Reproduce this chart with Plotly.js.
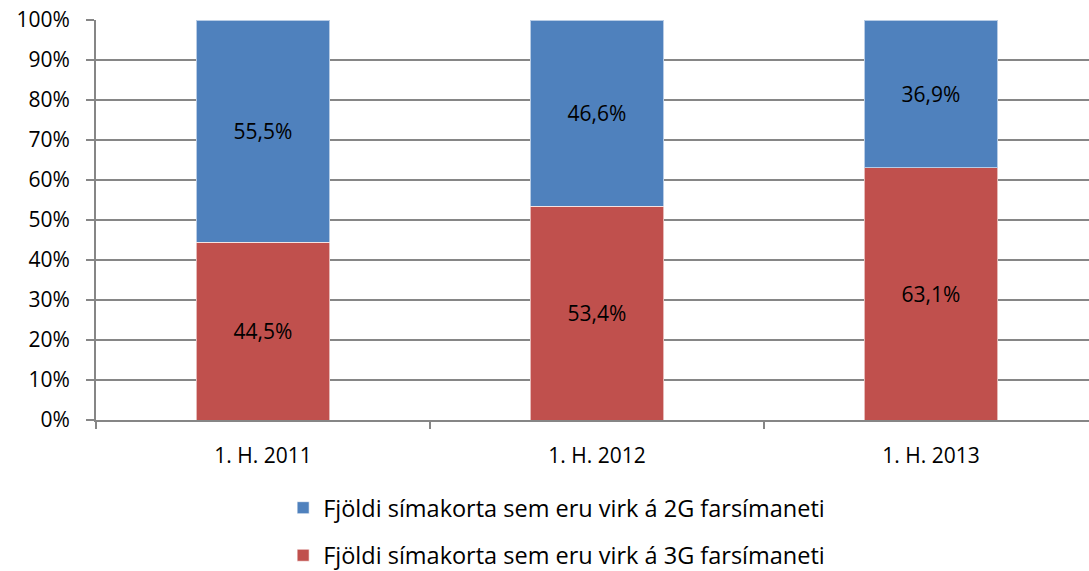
<!DOCTYPE html>
<html>
<head>
<meta charset="utf-8">
<script src="https://cdn.plot.ly/plotly-3.0.1.min.js"></script>
<style>
  html, body { margin: 0; padding: 0; background: #fff; }
  #chart { width: 1089px; height: 571px; }
</style>
</head>
<body>
<div id="chart"></div>
<script>
// Share of SIM cards active on 2G vs 3G networks, first half of each year
const periods   = ['1. H. 2011', '1. H. 2012', '1. H. 2013'];
const share3G   = [0.445, 0.534, 0.631];
const share2G   = [0.555, 0.466, 0.369];
const labels3G  = ['44,5%', '53,4%', '63,1%'];
const labels2G  = ['55,5%', '46,6%', '36,9%'];
const name2G    = 'Fjöldi símakorta sem eru virk á 2G farsímaneti';
const name3G    = 'Fjöldi símakorta sem eru virk á 3G farsímaneti';
const yTicks    = [0, 0.1, 0.2, 0.3, 0.4, 0.5, 0.6, 0.7, 0.8, 0.9, 1];

const FONT = '"Open Sans", "Noto Sans", sans-serif';
const FS = 21;
const GRID = '#868686';

const barStyle = (color) => ({ color: color, line: { color: 'rgba(255,255,255,0.6)', width: 1 } });

const traces = [
  { type: 'bar', x: periods, y: share3G, name: name3G, text: labels3G,
    marker: barStyle('#C0504D'), legendgroup: 'g3', legendrank: 2,
    textposition: 'inside', insidetextanchor: 'middle', textangle: 0,
    textfont: { color: '#000', size: FS, family: FONT }, hoverinfo: 'skip' },
  { type: 'bar', x: periods, y: share2G, name: name2G, text: labels2G,
    marker: barStyle('#4F81BD'), legendgroup: 'g2', legendrank: 1,
    textposition: 'inside', insidetextanchor: 'middle', textangle: 0,
    textfont: { color: '#000', size: FS, family: FONT }, hoverinfo: 'skip' }
];

const layout = {
  width: 1089, height: 571,
  margin: { l: 96, r: 0, t: 20, b: 151, autoexpand: false },
  paper_bgcolor: '#fff', plot_bgcolor: '#fff',
  font: { family: FONT, size: FS, color: '#000' },
  barmode: 'stack',
  bargap: 0.6,
  showlegend: true,
  xaxis: {
    type: 'category', range: [-0.5, 2.473],
    showgrid: false, showline: true, linecolor: GRID, linewidth: 2,
    ticks: 'outside', tickson: 'boundaries', ticklen: 7, tickcolor: GRID, tickwidth: 2,
    ticklabelstandoff: 16, tickangle: 0, automargin: false,
    tickfont: { size: FS, color: '#000' }, fixedrange: true
  },
  yaxis: {
    range: [0, 1], tickvals: yTicks, tickformat: '.0%',
    showgrid: true, gridcolor: GRID, gridwidth: 2,
    showline: true, linecolor: GRID, linewidth: 2,
    ticks: 'outside', ticklen: 8, tickcolor: GRID, tickwidth: 2,
    ticklabelstandoff: 12, automargin: false,
    tickfont: { size: FS, color: '#000' }, zeroline: false, fixedrange: true
  },
  legend: {
    orientation: 'v', traceorder: 'grouped', tracegroupgap: 14,
    xref: 'container', yref: 'container',
    x: 0.26, xanchor: 'left', y: 0.149, yanchor: 'top',
    font: { size: 23.5, color: '#000' }, bgcolor: 'rgba(0,0,0,0)'
  }
};

Plotly.newPlot('chart', traces, layout, { staticPlot: true, displayModeBar: false });
</script>
</body>
</html>
